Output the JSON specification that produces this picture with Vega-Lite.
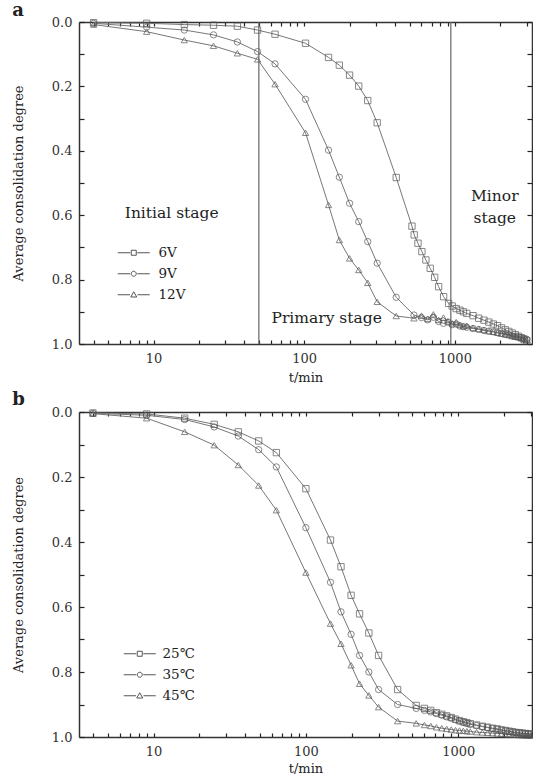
{
  "$schema": "https://vega.github.io/schema/vega-lite/v6.json",
  "background": "white",
  "padding": {"left": 12, "top": 2, "right": 0, "bottom": 0},
  "spacing": 7,
  "config": {
    "font": "DejaVu Serif",
    "view": {"stroke": null},
    "axis": {"grid": false, "domainColor": "#333", "domainWidth": 1.5, "tickColor": "#222", "tickWidth": 1.2, "labelColor": "#333", "labelFontSize": 13, "titleFontSize": 13, "titleColor": "#222", "titleFontWeight": "normal", "labelOverlap": false, "labelFlush": false}
  },
  "datasets": {
    "a": [
      {"s":"6V","t":4,"u":0.002},{"s":"6V","t":9,"u":0.004},{"s":"6V","t":16,"u":0.008},{"s":"6V","t":25,"u":0.010},{"s":"6V","t":36,"u":0.013},{"s":"6V","t":49,"u":0.025},{"s":"6V","t":64,"u":0.038},{"s":"6V","t":102,"u":0.066},{"s":"6V","t":145,"u":0.110},{"s":"6V","t":171,"u":0.134},{"s":"6V","t":200,"u":0.165},{"s":"6V","t":230,"u":0.199},{"s":"6V","t":264,"u":0.244},{"s":"6V","t":305,"u":0.313},{"s":"6V","t":408,"u":0.483},{"s":"6V","t":519,"u":0.634},{"s":"6V","t":537,"u":0.661},{"s":"6V","t":569,"u":0.687},{"s":"6V","t":604,"u":0.713},{"s":"6V","t":642,"u":0.739},{"s":"6V","t":686,"u":0.765},{"s":"6V","t":734,"u":0.793},{"s":"6V","t":780,"u":0.822},{"s":"6V","t":842,"u":0.853},{"s":"6V","t":908,"u":0.874},{"s":"6V","t":960,"u":0.882},{"s":"6V","t":1020,"u":0.890},{"s":"6V","t":1080,"u":0.895},{"s":"6V","t":1140,"u":0.900},{"s":"6V","t":1200,"u":0.905},{"s":"6V","t":1320,"u":0.912},{"s":"6V","t":1440,"u":0.920},{"s":"6V","t":1560,"u":0.926},{"s":"6V","t":1680,"u":0.932},{"s":"6V","t":1800,"u":0.938},{"s":"6V","t":1920,"u":0.943},{"s":"6V","t":2040,"u":0.950},{"s":"6V","t":2160,"u":0.956},{"s":"6V","t":2280,"u":0.961},{"s":"6V","t":2400,"u":0.966},{"s":"6V","t":2520,"u":0.971},{"s":"6V","t":2640,"u":0.976},{"s":"6V","t":2760,"u":0.981},{"s":"6V","t":2880,"u":0.986},{"s":"6V","t":3000,"u":0.990},
      {"s":"9V","t":4,"u":0.004},{"s":"9V","t":9,"u":0.016},{"s":"9V","t":16,"u":0.025},{"s":"9V","t":25,"u":0.040},{"s":"9V","t":36,"u":0.062},{"s":"9V","t":49,"u":0.092},{"s":"9V","t":64,"u":0.130},{"s":"9V","t":102,"u":0.240},{"s":"9V","t":145,"u":0.398},{"s":"9V","t":171,"u":0.482},{"s":"9V","t":200,"u":0.563},{"s":"9V","t":230,"u":0.620},{"s":"9V","t":264,"u":0.682},{"s":"9V","t":305,"u":0.749},{"s":"9V","t":408,"u":0.855},{"s":"9V","t":535,"u":0.910},{"s":"9V","t":600,"u":0.918},{"s":"9V","t":660,"u":0.925},{"s":"9V","t":720,"u":0.917},{"s":"9V","t":780,"u":0.930},{"s":"9V","t":840,"u":0.936},{"s":"9V","t":900,"u":0.932},{"s":"9V","t":960,"u":0.940},{"s":"9V","t":1020,"u":0.938},{"s":"9V","t":1080,"u":0.944},{"s":"9V","t":1140,"u":0.946},{"s":"9V","t":1200,"u":0.948},{"s":"9V","t":1320,"u":0.952},{"s":"9V","t":1440,"u":0.955},{"s":"9V","t":1560,"u":0.958},{"s":"9V","t":1680,"u":0.960},{"s":"9V","t":1800,"u":0.962},{"s":"9V","t":1920,"u":0.965},{"s":"9V","t":2040,"u":0.967},{"s":"9V","t":2160,"u":0.970},{"s":"9V","t":2280,"u":0.972},{"s":"9V","t":2400,"u":0.975},{"s":"9V","t":2520,"u":0.977},{"s":"9V","t":2640,"u":0.978},{"s":"9V","t":2760,"u":0.980},{"s":"9V","t":2880,"u":0.982},{"s":"9V","t":3000,"u":0.985},
      {"s":"12V","t":4,"u":0.008},{"s":"12V","t":9,"u":0.030},{"s":"12V","t":16,"u":0.056},{"s":"12V","t":25,"u":0.074},{"s":"12V","t":36,"u":0.097},{"s":"12V","t":49,"u":0.116},{"s":"12V","t":64,"u":0.193},{"s":"12V","t":102,"u":0.344},{"s":"12V","t":145,"u":0.568},{"s":"12V","t":171,"u":0.677},{"s":"12V","t":200,"u":0.734},{"s":"12V","t":230,"u":0.770},{"s":"12V","t":264,"u":0.810},{"s":"12V","t":305,"u":0.869},{"s":"12V","t":408,"u":0.913},{"s":"12V","t":535,"u":0.920},{"s":"12V","t":600,"u":0.912},{"s":"12V","t":660,"u":0.922},{"s":"12V","t":720,"u":0.908},{"s":"12V","t":780,"u":0.925},{"s":"12V","t":840,"u":0.918},{"s":"12V","t":900,"u":0.930},{"s":"12V","t":960,"u":0.936},{"s":"12V","t":1020,"u":0.932},{"s":"12V","t":1080,"u":0.940},{"s":"12V","t":1140,"u":0.945},{"s":"12V","t":1200,"u":0.943},{"s":"12V","t":1320,"u":0.950},{"s":"12V","t":1440,"u":0.953},{"s":"12V","t":1560,"u":0.956},{"s":"12V","t":1680,"u":0.960},{"s":"12V","t":1800,"u":0.962},{"s":"12V","t":1920,"u":0.965},{"s":"12V","t":2040,"u":0.968},{"s":"12V","t":2160,"u":0.970},{"s":"12V","t":2280,"u":0.972},{"s":"12V","t":2400,"u":0.975},{"s":"12V","t":2520,"u":0.977},{"s":"12V","t":2640,"u":0.979},{"s":"12V","t":2760,"u":0.981},{"s":"12V","t":2880,"u":0.984},{"s":"12V","t":3000,"u":0.987}
    ],
    "b": [
      {"s":"25℃","t":4,"u":0.003},{"s":"25℃","t":9,"u":0.006},{"s":"25℃","t":16,"u":0.019},{"s":"25℃","t":25,"u":0.038},{"s":"25℃","t":36,"u":0.061},{"s":"25℃","t":49,"u":0.089},{"s":"25℃","t":64,"u":0.125},{"s":"25℃","t":100,"u":0.236},{"s":"25℃","t":145,"u":0.394},{"s":"25℃","t":170,"u":0.476},{"s":"25℃","t":198,"u":0.564},{"s":"25℃","t":225,"u":0.621},{"s":"25℃","t":259,"u":0.680},{"s":"25℃","t":300,"u":0.749},{"s":"25℃","t":400,"u":0.854},{"s":"25℃","t":530,"u":0.903},{"s":"25℃","t":600,"u":0.912},{"s":"25℃","t":660,"u":0.918},{"s":"25℃","t":720,"u":0.925},{"s":"25℃","t":780,"u":0.930},{"s":"25℃","t":840,"u":0.935},{"s":"25℃","t":900,"u":0.940},{"s":"25℃","t":960,"u":0.945},{"s":"25℃","t":1020,"u":0.950},{"s":"25℃","t":1080,"u":0.953},{"s":"25℃","t":1140,"u":0.956},{"s":"25℃","t":1200,"u":0.959},{"s":"25℃","t":1320,"u":0.963},{"s":"25℃","t":1440,"u":0.967},{"s":"25℃","t":1560,"u":0.970},{"s":"25℃","t":1680,"u":0.973},{"s":"25℃","t":1800,"u":0.975},{"s":"25℃","t":1920,"u":0.978},{"s":"25℃","t":2040,"u":0.980},{"s":"25℃","t":2160,"u":0.982},{"s":"25℃","t":2280,"u":0.984},{"s":"25℃","t":2400,"u":0.986},{"s":"25℃","t":2520,"u":0.987},{"s":"25℃","t":2640,"u":0.988},{"s":"25℃","t":2760,"u":0.989},{"s":"25℃","t":2880,"u":0.990},{"s":"25℃","t":3000,"u":0.991},
      {"s":"35℃","t":4,"u":0.004},{"s":"35℃","t":9,"u":0.010},{"s":"35℃","t":16,"u":0.023},{"s":"35℃","t":25,"u":0.046},{"s":"35℃","t":36,"u":0.074},{"s":"35℃","t":49,"u":0.116},{"s":"35℃","t":64,"u":0.169},{"s":"35℃","t":100,"u":0.356},{"s":"35℃","t":145,"u":0.524},{"s":"35℃","t":170,"u":0.615},{"s":"35℃","t":198,"u":0.684},{"s":"35℃","t":225,"u":0.749},{"s":"35℃","t":259,"u":0.800},{"s":"35℃","t":300,"u":0.854},{"s":"35℃","t":400,"u":0.900},{"s":"35℃","t":530,"u":0.912},{"s":"35℃","t":600,"u":0.918},{"s":"35℃","t":660,"u":0.923},{"s":"35℃","t":720,"u":0.928},{"s":"35℃","t":780,"u":0.933},{"s":"35℃","t":840,"u":0.938},{"s":"35℃","t":900,"u":0.942},{"s":"35℃","t":960,"u":0.947},{"s":"35℃","t":1020,"u":0.951},{"s":"35℃","t":1080,"u":0.955},{"s":"35℃","t":1140,"u":0.958},{"s":"35℃","t":1200,"u":0.961},{"s":"35℃","t":1320,"u":0.965},{"s":"35℃","t":1440,"u":0.968},{"s":"35℃","t":1560,"u":0.971},{"s":"35℃","t":1680,"u":0.974},{"s":"35℃","t":1800,"u":0.976},{"s":"35℃","t":1920,"u":0.979},{"s":"35℃","t":2040,"u":0.981},{"s":"35℃","t":2160,"u":0.983},{"s":"35℃","t":2280,"u":0.985},{"s":"35℃","t":2400,"u":0.987},{"s":"35℃","t":2520,"u":0.988},{"s":"35℃","t":2640,"u":0.989},{"s":"35℃","t":2760,"u":0.990},{"s":"35℃","t":2880,"u":0.991},{"s":"35℃","t":3000,"u":0.992},
      {"s":"45℃","t":4,"u":0.005},{"s":"45℃","t":9,"u":0.019},{"s":"45℃","t":16,"u":0.061},{"s":"45℃","t":25,"u":0.102},{"s":"45℃","t":36,"u":0.163},{"s":"45℃","t":49,"u":0.226},{"s":"45℃","t":64,"u":0.302},{"s":"45℃","t":100,"u":0.494},{"s":"45℃","t":145,"u":0.651},{"s":"45℃","t":170,"u":0.713},{"s":"45℃","t":198,"u":0.779},{"s":"45℃","t":225,"u":0.836},{"s":"45℃","t":259,"u":0.872},{"s":"45℃","t":300,"u":0.908},{"s":"45℃","t":400,"u":0.951},{"s":"45℃","t":530,"u":0.958},{"s":"45℃","t":600,"u":0.963},{"s":"45℃","t":660,"u":0.966},{"s":"45℃","t":720,"u":0.970},{"s":"45℃","t":780,"u":0.973},{"s":"45℃","t":840,"u":0.975},{"s":"45℃","t":900,"u":0.977},{"s":"45℃","t":960,"u":0.979},{"s":"45℃","t":1020,"u":0.980},{"s":"45℃","t":1080,"u":0.981},{"s":"45℃","t":1140,"u":0.982},{"s":"45℃","t":1200,"u":0.983},{"s":"45℃","t":1320,"u":0.985},{"s":"45℃","t":1440,"u":0.986},{"s":"45℃","t":1560,"u":0.987},{"s":"45℃","t":1680,"u":0.988},{"s":"45℃","t":1800,"u":0.989},{"s":"45℃","t":1920,"u":0.990},{"s":"45℃","t":2040,"u":0.991},{"s":"45℃","t":2160,"u":0.992},{"s":"45℃","t":2280,"u":0.992},{"s":"45℃","t":2400,"u":0.993},{"s":"45℃","t":2520,"u":0.994},{"s":"45℃","t":2640,"u":0.994},{"s":"45℃","t":2760,"u":0.995},{"s":"45℃","t":2880,"u":0.995},{"s":"45℃","t":3000,"u":0.996}
    ],
    "a_rules": [{"t": 50}, {"t": 940}],
    "a_text": [
      {"label": "Initial stage", "t": 13.2, "u": 0.609},
      {"label": "Primary stage", "t": 141, "u": 0.935},
      {"label": "Minor\nstage", "t": 1840, "u": 0.555}
    ]
  },
  "resolve": {"scale": {"x": "independent", "y": "independent", "shape": "independent"}, "legend": {"shape": "independent"}},
  "vconcat": [
    {
      "width": 453, "height": 322,
      "title": {"text": "a", "anchor": "start", "frame": "bounds", "fontSize": 18, "fontWeight": "bold", "color": "#222", "offset": 2, "dy": 6},
      "resolve": {"scale": {"shape": "independent"}, "axis": {"x": "independent", "y": "independent"}, "legend": {"shape": "independent"}},
      "layer": [
        {
          "data": {"name": "a_rules"},
          "mark": {"type": "rule", "color": "#666", "strokeWidth": 1.2},
          "encoding": {"x": {"field": "t", "type": "quantitative", "scale": {"type": "log", "domain": [3.2, 3250], "nice": false}, "axis": null}}
        },
        {
          "data": {"name": "a"},
          "mark": {"type": "line", "color": "#777", "strokeWidth": 1},
          "encoding": {
            "x": {"field": "t", "type": "quantitative", "scale": {"type": "log", "domain": [3.2, 3250], "nice": false},
              "axis": {"orient": "bottom", "values": [4,5,6,7,8,9,10,20,30,40,50,60,70,80,90,100,200,300,400,500,600,700,800,900,1000,2000,3000], "format": "d",
                "labelExpr": "(datum.value==10||datum.value==100||datum.value==1000)?datum.label:''",
                "tickSize": -4, "labelPadding": 12, "title": "t/min", "titlePadding": 6}},
            "y": {"field": "u", "type": "quantitative", "scale": {"domain": [0, 1], "reverse": true, "nice": false},
              "axis": {"orient": "left", "values": [0,0.1,0.2,0.3,0.4,0.5,0.6,0.7,0.8,0.9,1],
                "labelExpr": "round(datum.value*10)%2==0?format(datum.value,'.1f'):''",
                "tickSize": -5, "labelPadding": 12, "title": "Average consolidation degree", "titlePadding": 26}},
            "detail": {"field": "s"}
          }
        },
        {
          "data": {"name": "a"},
          "mark": {"type": "point", "filled": false, "size": 40, "strokeWidth": 1, "color": "#555"},
          "encoding": {
            "x": {"field": "t", "type": "quantitative", "axis": null},
            "y": {"field": "u", "type": "quantitative", "axis": null},
            "shape": {"field": "s", "type": "nominal", "scale": {"domain": ["6V","9V","12V"], "range": ["square","circle","triangle-up"]}, "legend": null}
          }
        },
        {
          "data": {"name": "a"},
          "mark": {"type": "point", "filled": false, "opacity": 0, "color": "#555"},
          "encoding": {
            "x": {"field": "t", "type": "quantitative", "axis": null},
            "y": {"field": "u", "type": "quantitative", "axis": null},
            "shape": {"field": "s", "type": "nominal",
              "scale": {"domain": ["6V","9V","12V"], "range": ["M-3.2,0H-0.7M-0.5,-0.5H0.5V0.5H-0.5ZM0.7,0H3.2", "M-3.2,0H-0.7M0.5,0A0.5,0.5,0,1,1,-0.5,0A0.5,0.5,0,1,1,0.5,0ZM0.7,0H3.2", "M-3.2,0H-0.75M0,-0.6L0.6,0.45H-0.6ZM0.75,0H3.2"]},
              "legend": {"orient": "none", "legendX": 48, "legendY": 224, "title": null, "padding": 0, "symbolSize": 100, "symbolOpacity": 1, "symbolStrokeColor": "#555", "symbolFillColor": "white", "symbolStrokeWidth": 1, "labelOffset": 18, "labelFontSize": 13.5, "labelColor": "#222", "rowPadding": 6}}
          }
        },
        {
          "data": {"name": "a_text"},
          "mark": {"type": "text", "fontSize": 15.5, "color": "#222", "align": "center", "baseline": "alphabetic", "lineBreak": "\n", "lineHeight": 22},
          "encoding": {
            "x": {"field": "t", "type": "quantitative", "axis": null},
            "y": {"field": "u", "type": "quantitative", "axis": null},
            "text": {"field": "label"}
          }
        },
        {
          "data": {"name": "a"},
          "mark": {"type": "point", "opacity": 0},
          "encoding": {
            "x": {"field": "t", "type": "quantitative",
              "axis": {"orient": "top", "values": [4,5,6,7,8,9,10,20,30,40,50,60,70,80,90,100,200,300,400,500,600,700,800,900,1000,2000,3000], "labels": false, "title": null, "tickSize": -4}},
            "y": {"field": "u", "type": "quantitative",
              "axis": {"orient": "right", "values": [0,0.1,0.2,0.3,0.4,0.5,0.6,0.7,0.8,0.9,1], "labels": false, "title": null, "tickSize": -5}}
          }
        }
      ]
    },
    {
      "width": 453, "height": 325,
      "title": {"text": "b", "anchor": "start", "frame": "bounds", "fontSize": 18, "fontWeight": "bold", "color": "#222", "offset": 2, "dy": 5},
      "resolve": {"scale": {"shape": "independent"}, "axis": {"x": "independent", "y": "independent"}, "legend": {"shape": "independent"}},
      "layer": [
        {
          "data": {"name": "b"},
          "mark": {"type": "line", "color": "#777", "strokeWidth": 1},
          "encoding": {
            "x": {"field": "t", "type": "quantitative", "scale": {"type": "log", "domain": [3.24, 3050], "nice": false},
              "axis": {"orient": "bottom", "values": [4,5,6,7,8,9,10,20,30,40,50,60,70,80,90,100,200,300,400,500,600,700,800,900,1000,2000,3000], "format": "d",
                "labelExpr": "(datum.value==10||datum.value==100||datum.value==1000)?datum.label:''",
                "tickSize": -4, "labelPadding": 12, "title": "t/min", "titlePadding": 4}},
            "y": {"field": "u", "type": "quantitative", "scale": {"domain": [0, 1], "reverse": true, "nice": false},
              "axis": {"orient": "left", "values": [0,0.1,0.2,0.3,0.4,0.5,0.6,0.7,0.8,0.9,1],
                "labelExpr": "round(datum.value*10)%2==0?format(datum.value,'.1f'):''",
                "tickSize": -5, "labelPadding": 12, "title": "Average consolidation degree", "titlePadding": 26}},
            "detail": {"field": "s"}
          }
        },
        {
          "data": {"name": "b"},
          "mark": {"type": "point", "filled": false, "size": 40, "strokeWidth": 1, "color": "#555"},
          "encoding": {
            "x": {"field": "t", "type": "quantitative", "axis": null},
            "y": {"field": "u", "type": "quantitative", "axis": null},
            "shape": {"field": "s", "type": "nominal", "scale": {"domain": ["25℃","35℃","45℃"], "range": ["square","circle","triangle-up"]}, "legend": null}
          }
        },
        {
          "data": {"name": "b"},
          "mark": {"type": "point", "filled": false, "opacity": 0, "color": "#555"},
          "encoding": {
            "x": {"field": "t", "type": "quantitative", "axis": null},
            "y": {"field": "u", "type": "quantitative", "axis": null},
            "shape": {"field": "s", "type": "nominal",
              "scale": {"domain": ["25℃","35℃","45℃"], "range": ["M-3.2,0H-0.7M-0.5,-0.5H0.5V0.5H-0.5ZM0.7,0H3.2", "M-3.2,0H-0.7M0.5,0A0.5,0.5,0,1,1,-0.5,0A0.5,0.5,0,1,1,0.5,0ZM0.7,0H3.2", "M-3.2,0H-0.75M0,-0.6L0.6,0.45H-0.6ZM0.75,0H3.2"]},
              "legend": {"orient": "none", "legendX": 54, "legendY": 235, "title": null, "padding": 0, "symbolSize": 100, "symbolOpacity": 1, "symbolStrokeColor": "#555", "symbolFillColor": "white", "symbolStrokeWidth": 1, "labelOffset": 16, "labelFontSize": 13.5, "labelColor": "#222", "rowPadding": 6}}
          }
        },
        {
          "data": {"name": "b"},
          "mark": {"type": "point", "opacity": 0},
          "encoding": {
            "x": {"field": "t", "type": "quantitative",
              "axis": {"orient": "top", "values": [4,5,6,7,8,9,10,20,30,40,50,60,70,80,90,100,200,300,400,500,600,700,800,900,1000,2000,3000], "labels": false, "title": null, "tickSize": -4}},
            "y": {"field": "u", "type": "quantitative",
              "axis": {"orient": "right", "values": [0,0.1,0.2,0.3,0.4,0.5,0.6,0.7,0.8,0.9,1], "labels": false, "title": null, "tickSize": -5}}
          }
        }
      ]
    }
  ]
}
